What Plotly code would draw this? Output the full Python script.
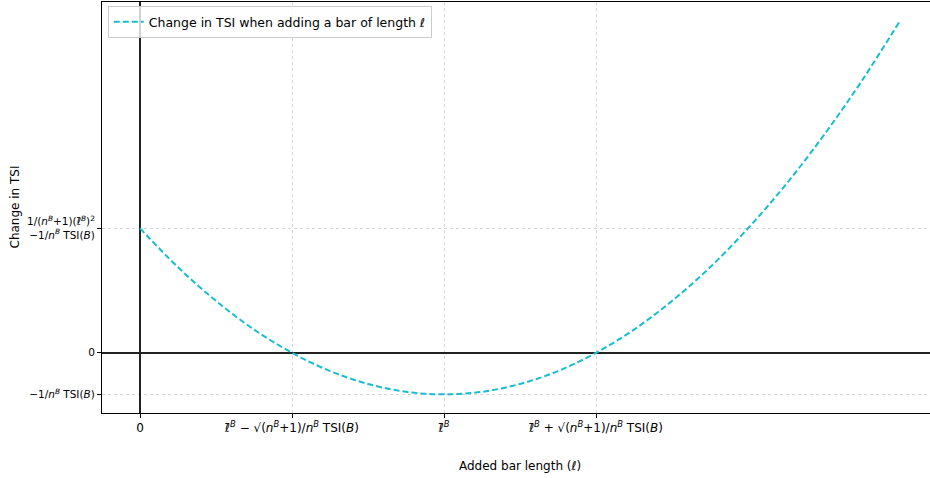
import plotly.graph_objects as go

bar_length = [0, 0.25, 0.5, 0.75, 1.0, 1.25, 1.5, 1.75, 2.0, 2.25, 2.5, 2.75,
              3.0, 3.25, 3.5, 3.75, 4.0, 4.25, 4.5, 4.75, 5.0]
tsi_change = [3.0, 2.06, 1.25, 0.56, 0.0, -0.44, -0.75, -0.94, -1.0, -0.94, -0.75, -0.44,
              0.0, 0.56, 1.25, 2.06, 3.0, 4.06, 5.25, 6.56, 8.0]

x_tick_vals = [0, 1, 2, 3]
x_tick_text = [
    "0",
    "ℓ̄<sup><i>B</i></sup> − √(<i>n</i><sup><i>B</i></sup>+1)/<i>n</i><sup><i>B</i></sup> TSI(<i>B</i>)",
    "ℓ̄<sup><i>B</i></sup>",
    "ℓ̄<sup><i>B</i></sup> + √(<i>n</i><sup><i>B</i></sup>+1)/<i>n</i><sup><i>B</i></sup> TSI(<i>B</i>)",
]
y_tick_vals = [3, 0, -1]
y_tick_text = [
    "1/(<i>n</i><sup><i>B</i></sup>+1)(ℓ̄<sup><i>B</i></sup>)<sup>2</sup><br>−1/<i>n</i><sup><i>B</i></sup> TSI(<i>B</i>)",
    "0",
    "−1/<i>n</i><sup><i>B</i></sup> TSI(<i>B</i>)",
]

font_family = "DejaVu Sans"
grid_color = "#d6d6d6"

fig = go.Figure()
fig.add_trace(go.Scatter(
    x=bar_length, y=tsi_change, mode="lines",
    line=dict(color="#17becf", width=2, dash="6px,3px", shape="spline"),
    name="Change in TSI when adding a bar of length ℓ",
))

fig.update_layout(
    width=930, height=478,
    margin=dict(l=102, r=0, t=2, b=65),
    paper_bgcolor="white", plot_bgcolor="white",
    font=dict(family=font_family, size=12, color="black"),
    showlegend=True,
    legend=dict(x=0.007, y=0.99, xanchor="left", yanchor="top",
                bordercolor="#cccccc", borderwidth=1, bgcolor="rgba(255,255,255,0.8)",
                font=dict(size=12.5)),
    xaxis=dict(
        range=[-0.25, 5.197], automargin=False,
        tickmode="array", tickvals=x_tick_vals, ticktext=x_tick_text,
        tickfont=dict(size=12),
        showline=True, mirror=True, linecolor="black", linewidth=1,
        ticks="outside", ticklen=4, tickcolor="black",
        showgrid=True, gridcolor=grid_color, gridwidth=0.6, griddash="dot",
        zeroline=True, zerolinecolor="#222222", zerolinewidth=1.5,
    ),
    yaxis=dict(
        range=[-1.45, 8.45], automargin=False,
        tickmode="array", tickvals=y_tick_vals, ticktext=y_tick_text,
        tickfont=dict(size=10.5),
        showline=True, mirror=False, linecolor="black", linewidth=1,
        ticks="outside", ticklen=4, tickcolor="black",
        showgrid=True, gridcolor=grid_color, gridwidth=0.6, griddash="dot",
        zeroline=True, zerolinecolor="#222222", zerolinewidth=1.5,
    ),
    annotations=[
        dict(text="Added bar length (ℓ)", xref="paper", yref="paper",
             x=0.505, y=0, yshift=-53, xanchor="center", yanchor="middle",
             showarrow=False, font=dict(size=12)),
        dict(text="Change in TSI", xref="paper", yref="paper",
             x=0, xshift=-88, y=0.5, textangle=-90, xanchor="center", yanchor="middle",
             showarrow=False, font=dict(size=12)),
    ],
)

fig.write_html("out.html", config={"displayModeBar": False},
               post_script="document.body.style.margin='0px';document.body.style.padding='0px';")
